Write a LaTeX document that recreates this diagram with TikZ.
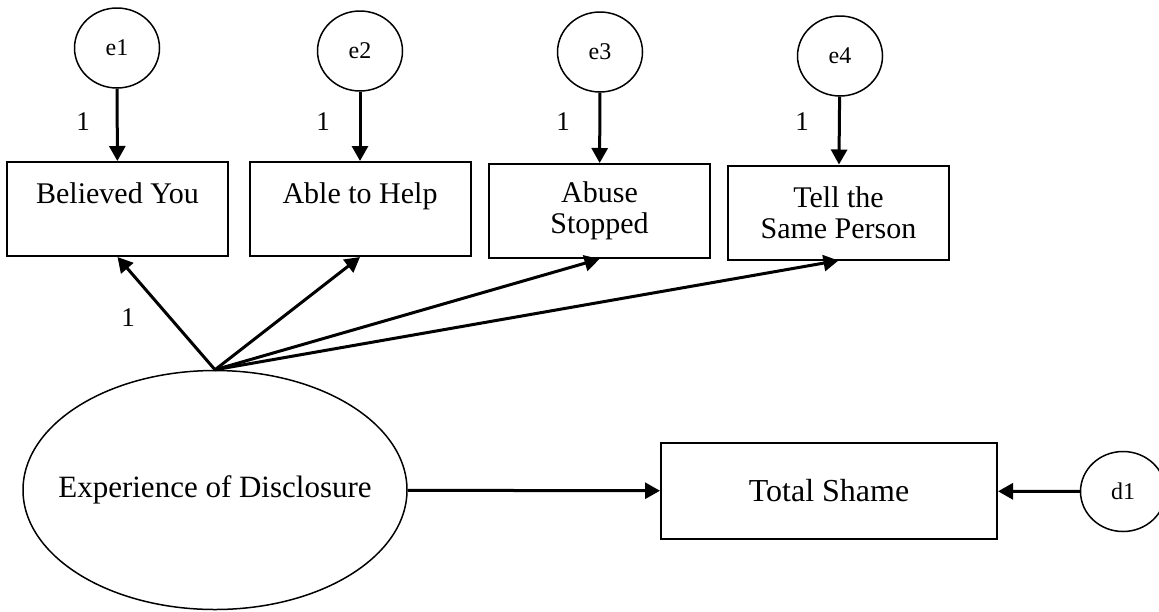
\documentclass[tikz,border=0pt]{standalone}
\usepackage{fontspec}
\setmainfont{Liberation Serif}
\usetikzlibrary{arrows.meta,shapes.geometric}

\begin{document}
\begin{tikzpicture}[x=0.5pt,y=-0.5pt,
  font=\fontsize{15}{15.5}\selectfont,
  errvar/.style={draw,ellipse,line width=0.75pt,minimum width=42.5pt,minimum height=40pt,inner sep=0pt,font=\fontsize{12}{12}\selectfont},
  obsvar/.style={draw,rectangle,line width=1pt,minimum width=110.5pt,minimum height=47pt,align=center,inner sep=2pt},
  latvar/.style={draw,ellipse,line width=0.75pt,minimum width=192pt,minimum height=119.5pt,inner xsep=-13pt,inner ysep=0pt,font=\fontsize{15.5}{16}\selectfont},
  regpath/.style={line width=1.5pt,-{Triangle[length=7.5pt,width=8pt]}},
  weight/.style={inner sep=0pt,font=\fontsize{13.5}{14}\selectfont}]
  \useasboundingbox (0,0) rectangle (1159,611);

  % error terms
  \node[errvar] (e1) at (117,48) {e1};
  \node[errvar] (e2) at (360,51) {e2};
  \node[errvar] (e3) at (600,52) {e3};
  \node[errvar] (e4) at (840,56) {e4};
  \node[errvar] (d1) at (1123,491.5) {d1};

  % indicators
  \node[obsvar] (believed) at (117.5,209) {Believed You\\\mbox{}};
  \node[obsvar] (able) at (360,209) {Able to Help\\\mbox{}};
  \node[obsvar] (abuse) at (599.5,211) {Abuse\\Stopped};
  \node[obsvar] (tell) at (838.5,212.5) {Tell the\\Same Person};

  \node[latvar] (disclosure) at (215,490) {Experience of Disclosure};
  \node[obsvar,minimum width=168pt,minimum height=48pt,font=\fontsize{16}{16}\selectfont] (shame) at (829,491) {Total Shame};

  \draw[regpath] (e1) -- (believed);
  \draw[regpath] (e2) -- (able);
  \draw[regpath] (e3) -- (abuse);
  \draw[regpath] (e4) -- (tell);

  \draw[regpath] (disclosure.north) -- (believed.south);
  \draw[regpath] (disclosure.north) -- (able.south);
  \draw[regpath] (disclosure.north) -- (abuse.south);
  \draw[regpath] (disclosure.north) -- (tell.south);

  \draw[regpath] (disclosure) -- (shame);
  \draw[regpath] (d1) -- (shame);

  \node[weight] (w1) at (83,122) {1};
  \node[weight] (w2) at (323,122) {1};
  \node[weight] (w3) at (563,122) {1};
  \node[weight] (w4) at (802,122) {1};
  \node[weight] (w5) at (128,318) {1};
\end{tikzpicture}
\end{document}
